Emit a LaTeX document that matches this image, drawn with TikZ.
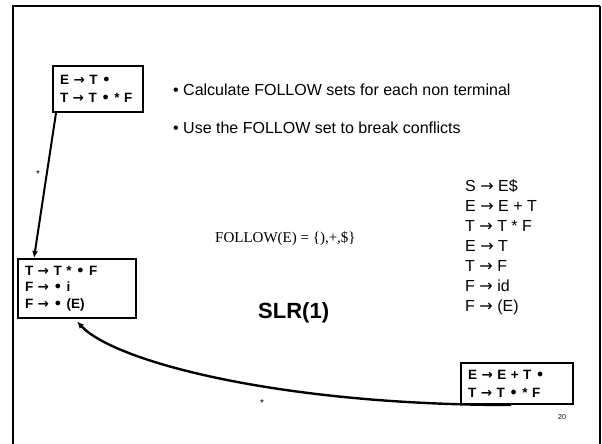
\documentclass[tikz,border=0pt]{standalone}
\usepackage{fontspec}
\setmainfont{Liberation Sans}
\newfontfamily\serifF{Liberation Serif}
\newfontfamily\arrF{DejaVu Sans}
\newcommand{\myra}{{\arrF →}}
\newcommand{\mybu}{{\arrF •}}
\usetikzlibrary{arrows.meta,calc}
\tikzset{
  box/.style={draw, line width=2pt, inner xsep=7pt, inner ysep=0pt, align=left,
    font=\fontsize{13.5}{18}\selectfont\bfseries},
  arr/.style={line width=2pt, -{Latex[length=7pt,width=6pt]}},
  bodytext/.style={inner sep=0pt, anchor=base west, font=\fontsize{16}{20}\selectfont},
  star/.style={inner sep=0pt, font=\fontsize{10}{11}\selectfont}
}
\begin{document}
\begin{tikzpicture}[x=1pt,y=-1pt]
\useasboundingbox (0,0) rectangle (602,444);
% frame
\draw[line width=2.8pt] (13,444) -- (13,6) -- (600,6);
\draw[line width=1.6pt] (600,6) -- (600,444);

% item boxes
\node[box, minimum width=90, minimum height=46, text width=76] (A) at (98,89)
  {E \myra\ T \mybu\\T \myra\ T \mybu\ * F};
\node[box, minimum width=118, minimum height=59, text width=104,
  font=\fontsize{13.5}{16.5}\selectfont\bfseries] (B) at (77,288.5)
  {T \myra\ T * \mybu\ F\\F \myra\ \mybu\ i\\F \myra\ \mybu\ (E)};
\node[box, minimum width=112, minimum height=41, text width=98] (C) at (517,383.5)
  {E \myra\ E + T \mybu\\T \myra\ T \mybu\ * F};

% bullets
\node[bodytext] (b1) at (173,95.7) {• Calculate FOLLOW sets for each non terminal};
\node[bodytext] (b2) at (173,133.7) {• Use the FOLLOW set to break conflicts};

% grammar
\foreach \t [count=\i] in {S \myra\ E\$, E \myra\ E + T, T \myra\ T * F, E \myra\ T, T \myra\ F, F \myra\ id, F \myra\ (E)}
  \node[bodytext] (g\i) at (465,{191+20*(\i-1)}) {\t};

% follow
\node[inner sep=0pt, anchor=base west, font=\serifF\fontsize{15}{18}\selectfont] (fol) at (215,242)
  {FOLLOW(E) = \{),+,\$\}};

% title
\node[inner sep=0pt, anchor=base west, font=\fontsize{22}{26}\selectfont\bfseries] (slr) at (258,318) {SLR(1)};

% page number
\node[inner sep=0pt, font=\fontsize{7}{8}\selectfont] (pg) at (562,417) {20};

% connectors
\draw[arr] ($(A.south west)+(4,0)$) -- ($(B.north west)+(17,0)$);
\node[star] (s1) at (38,174) {*};
\draw[arr, line width=2.4pt] ($(C.south west)+(51,0)$)
  .. controls (280,405) and (115,362) .. ($(B.south west)+(60,2.5)$);
\node[star] (s2) at (262,403) {*};
\end{tikzpicture}
\end{document}
